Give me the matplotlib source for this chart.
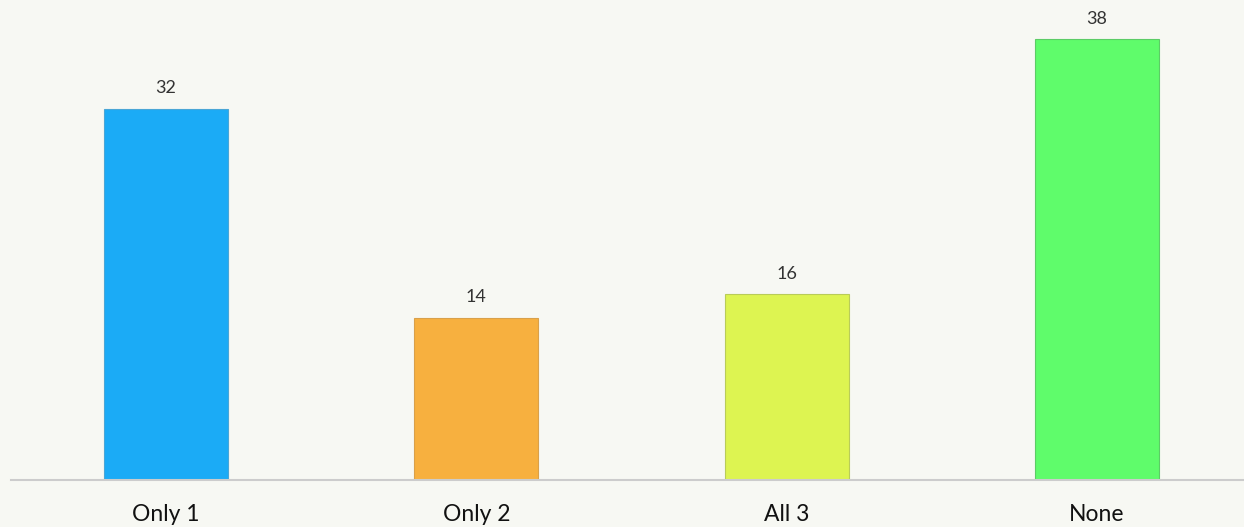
import matplotlib
matplotlib.use("Agg")
import matplotlib.pyplot as plt

categories = ["Only 1", "Only 2", "All 3", "None"]
values = [32, 14, 16, 38]
colors = ["#1babf6", "#f7b03f", "#ddf451", "#5ffc6b"]
edges = ["#4aa6d6", "#d9a04a", "#b9cc58", "#5ccc66"]

bg = "#f7f8f3"
fig = plt.figure(figsize=(12.44, 5.27), dpi=100, facecolor=bg)
ax = fig.add_axes([11/1244, 47/527, 1241/1244, 464/527], facecolor=bg)

x = range(len(categories))
bars = ax.bar(x, values, width=0.4, color=colors, edgecolor=edges, linewidth=0.8, zorder=2)
for xi, v in zip(x, values):
    ax.annotate(str(v), (xi, v), xytext=(0, 9), textcoords="offset points",
                ha="center", va="bottom", fontsize=13, color="#333333", family="Lato")

ax.set_xlim(-0.5, 3.5)
ax.set_ylim(0, 40)
ax.set_xticks(list(x))
ax.set_xticklabels(categories, fontsize=16.5, family="Lato", color="#111111")
ax.tick_params(axis="x", length=0, pad=17)
ax.set_yticks([])
for s in ["top", "right", "left"]:
    ax.spines[s].set_visible(False)
ax.spines["bottom"].set_color("#cccccc")
ax.spines["bottom"].set_linewidth(1.5)

fig.savefig("out.png", dpi=100, facecolor=bg)
